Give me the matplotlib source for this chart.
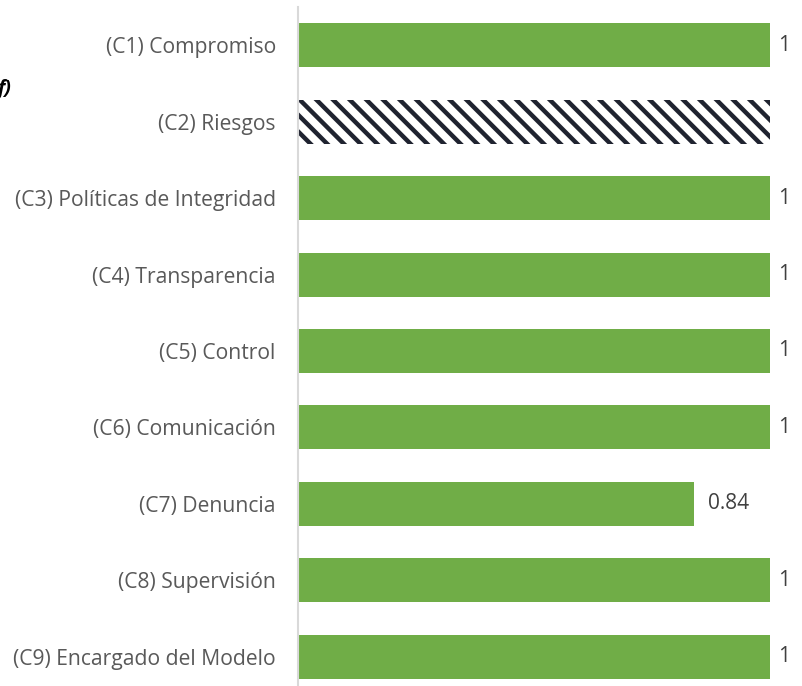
import matplotlib.pyplot as plt
import matplotlib as mpl

categories = [
    "(C1) Compromiso",
    "(C2) Riesgos",
    "(C3) Políticas de Integridad",
    "(C4) Transparencia",
    "(C5) Control",
    "(C6) Comunicación",
    "(C7) Denuncia",
    "(C8) Supervisión",
    "(C9) Encargado del Modelo",
]
values = [1, 1, 1, 1, 1, 1, 0.84, 1, 1]
value_labels = ["1", "", "1", "1", "1", "1", "0.84", "1", "1"]
hatched = [False, True, False, False, False, False, False, False, False]

plt.rcParams["font.family"] = ["Open Sans", "DejaVu Sans"]
mpl.rcParams["hatch.linewidth"] = 3.2

fig = plt.figure(figsize=(8.03, 6.86), dpi=100)
# axes runs from y=7px down past the bottom edge, as in the reference
ax = fig.add_axes([298 / 803, 1 - 695 / 686, 472 / 803, 688 / 686])

green = "#70ad47"
for i, (v, h) in enumerate(zip(values, hatched)):
    if h:
        ax.barh(i, v, height=0.576, color="white", edgecolor="#1f2330",
                hatch="\\\\", linewidth=0)
    else:
        ax.barh(i, v, height=0.576, color=green, edgecolor="none")
    if value_labels[i]:
        off = 6 if v >= 1 else 10
        ax.annotate(value_labels[i], (v, i), xytext=(off, 0),
                    textcoords="offset points", va="center", ha="left",
                    fontsize=15, color="#404040", annotation_clip=False)

ax.set_xlim(0, 1)
ax.set_ylim(8.5, -0.5)
ax.set_yticks(range(len(categories)))
ax.set_yticklabels(categories, fontsize=15.2, color="#595959")
ax.tick_params(axis="y", length=0, pad=16)
ax.set_xticks([])
for s in ["top", "right", "bottom"]:
    ax.spines[s].set_visible(False)
ax.spines["left"].set_color("#d9d9d9")
ax.spines["left"].set_linewidth(1.5)

fig.text(-0.004, 0.87, "f)", fontsize=14, fontstyle="italic",
         fontweight="bold", color="black", va="center")

fig.savefig("out.png", dpi=100)
